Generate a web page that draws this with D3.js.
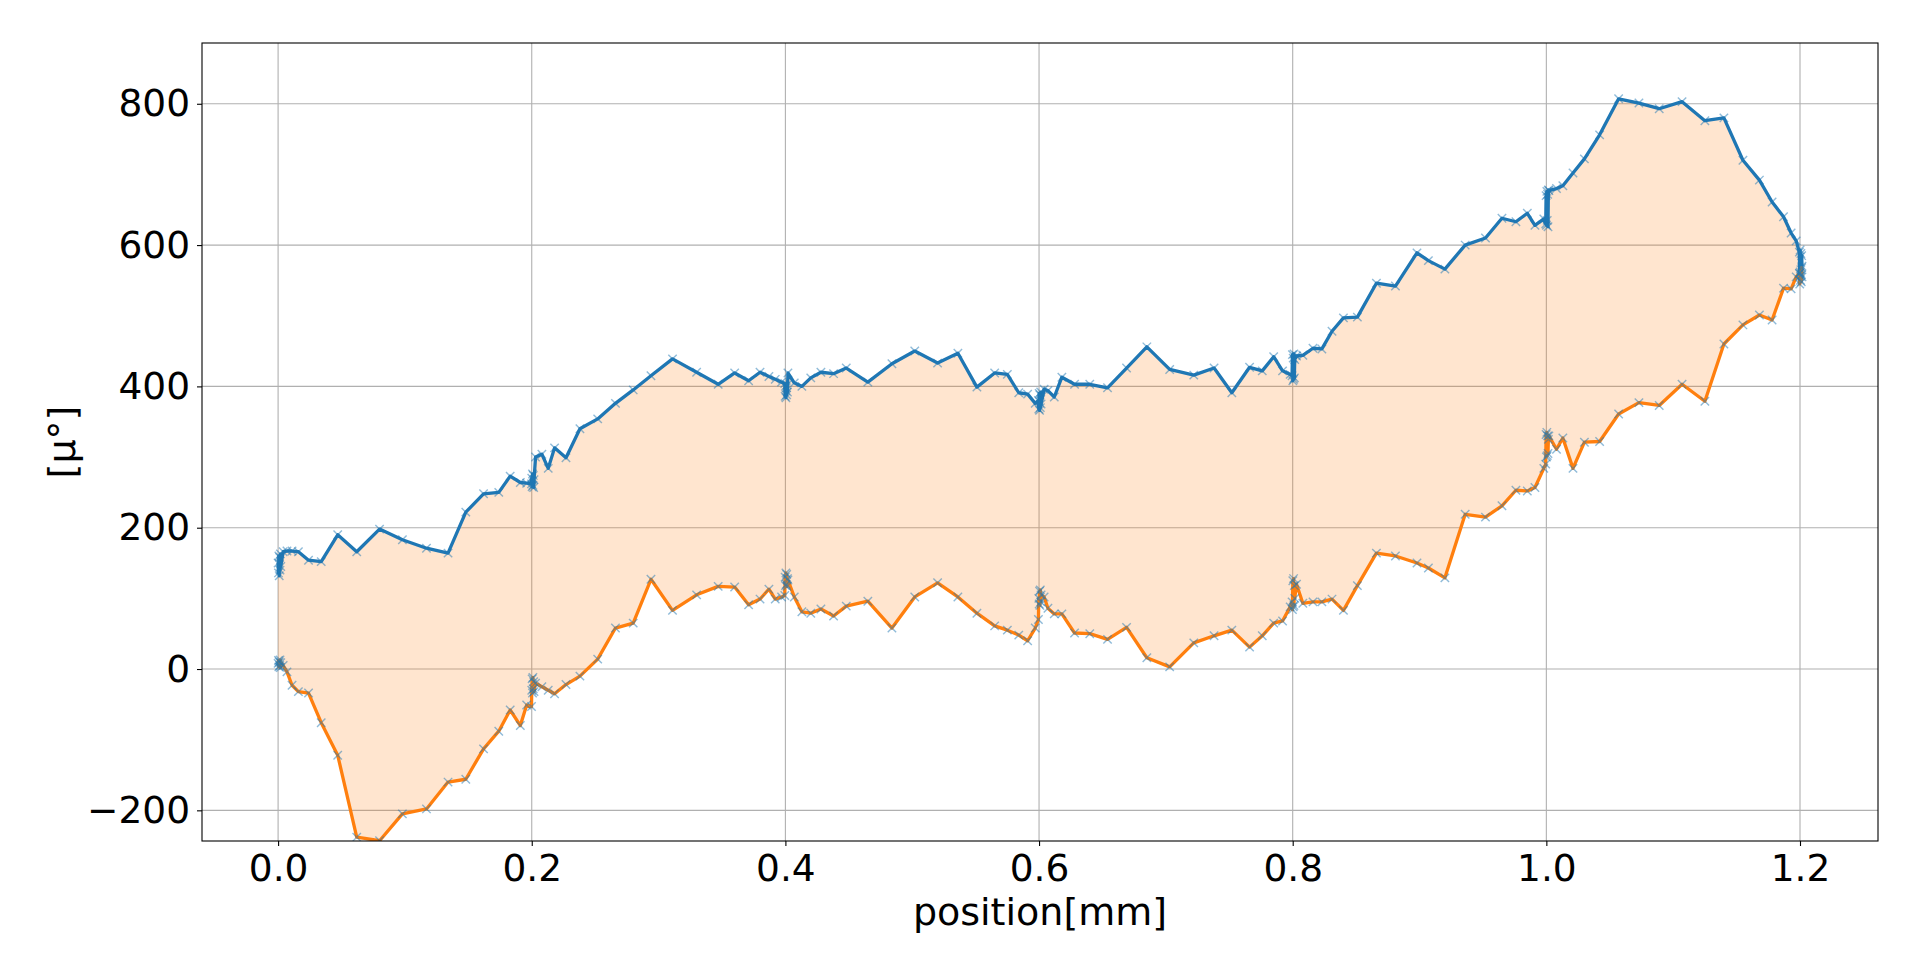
<!DOCTYPE html>
<html>
<head>
<meta charset="utf-8">
<script src="https://cdn.jsdelivr.net/npm/d3@7"></script>
<style>
  body { margin: 0; background: #fff; }
  text { font-family: "DejaVu Sans", sans-serif; fill: #000; }
</style>
</head>
<body>
<div id="svg-container"></div>
<script>
// data: position [mm], upper envelope and lower envelope [µ°]
const positions = [
  0.0000, 0.0003, 0.0006, 0.0009, 0.0012, 0.0015, 0.0018, 0.0021,
  0.004, 0.007, 0.011, 0.016, 0.024, 0.034, 0.047, 0.062, 0.080, 0.098,
  0.117, 0.134, 0.148, 0.162, 0.174, 0.183, 0.191, 0.196,
  0.1998, 0.2000, 0.2003, 0.2006, 0.2009, 0.2012, 0.2015, 0.2018,
  0.203, 0.208, 0.213, 0.218, 0.227, 0.238, 0.252, 0.266, 0.280, 0.294,
  0.311, 0.330, 0.347, 0.360, 0.371, 0.380, 0.387, 0.392, 0.397,
  0.3995, 0.3998, 0.4001, 0.4004, 0.4007, 0.4010, 0.4013, 0.4016,
  0.402, 0.407, 0.413, 0.420, 0.428, 0.438, 0.448, 0.465, 0.484, 0.502,
  0.520, 0.536, 0.551, 0.565, 0.575, 0.584, 0.591, 0.597,
  0.5995, 0.5998, 0.6001, 0.6004, 0.6007, 0.6010, 0.6013, 0.6016,
  0.604, 0.607, 0.612, 0.618, 0.628, 0.640, 0.654, 0.669, 0.685, 0.703,
  0.722, 0.738, 0.752, 0.766, 0.776, 0.785, 0.792, 0.798,
  0.7995, 0.7998, 0.8001, 0.8004, 0.8007, 0.8010, 0.8013, 0.8016,
  0.803, 0.808, 0.816, 0.823, 0.831, 0.840, 0.851, 0.866, 0.881, 0.898,
  0.907, 0.920, 0.936, 0.952, 0.965, 0.976, 0.985, 0.991, 0.998,
  0.9995, 0.9998, 1.0001, 1.0004, 1.0007, 1.0010, 1.0013, 1.0016,
  1.002, 1.008, 1.013, 1.021, 1.030, 1.042, 1.057, 1.073, 1.089, 1.107,
  1.125, 1.140, 1.155, 1.168, 1.178, 1.187, 1.193, 1.197,
  1.1995, 1.1998, 1.2001, 1.2004, 1.2007, 1.2010, 1.2013, 1.2016
];

const upper = [
  150, 136, 160, 132, 158, 140, 163, 145,
  166, 167, 167, 166, 154, 152, 190, 166, 198, 183,
  171, 164, 222, 248, 250, 273, 264, 263,
  262, 270, 258, 276, 260, 274, 257, 268,
  300, 304, 284, 313, 299, 340, 354, 376, 395, 415,
  439, 420, 403, 419, 408, 420, 414, 410, 406,
  404, 386, 400, 384, 398, 388, 402, 392,
  419, 405, 400, 412, 420, 418, 426, 406, 432, 450,
  433, 447, 399, 419, 417, 391, 389, 376,
  380, 368, 390, 366, 388, 370, 392, 375,
  396, 394, 385, 413, 403, 403, 398, 426, 456, 424,
  416, 426, 391, 427, 422, 442, 422, 417,
  415, 445, 408, 440, 410, 446, 412, 438,
  443, 444, 454, 453, 478, 497, 498, 546, 542, 589,
  578, 566, 600, 610, 638, 633, 645, 628, 637,
  630, 670, 628, 676, 635, 672, 626, 678,
  677, 680, 684, 702, 722, 756, 807, 801, 793, 803,
  776, 780, 720, 692, 661, 640, 617, 606,
  590, 560, 593, 556, 588, 558, 585, 570
];

const lower = [
  8, 12, 3, 10, 5, 13, 2, 9,
  5, -4, -23, -32, -34, -76, -122, -238, -243, -205,
  -198, -160, -156, -113, -88, -58, -80, -51,
  -53, -30, -14, -34, -12, -28, -18, -32,
  -20, -25, -30, -35, -22, -10, 14, 58, 65, 127,
  83, 105, 117, 116, 91, 99, 113, 99, 102,
  104, 130, 118, 136, 120, 134, 117, 128,
  126, 102, 81, 79, 85, 75, 89, 96, 58, 102,
  122, 102, 79, 61, 55, 48, 40, 58,
  70, 100, 92, 110, 90, 112, 95, 105,
  102, 86, 78, 78, 51, 50, 42, 59, 16, 3,
  37, 47, 55, 31, 47, 65, 68, 88,
  95, 84, 125, 88, 128, 90, 118, 100,
  120, 93, 95, 95, 99, 83, 118, 164, 160, 150,
  143, 129, 219, 215, 231, 253, 252, 257, 284,
  290, 332, 300, 335, 302, 330, 305, 325,
  330, 311, 327, 284, 321, 322, 361, 377, 373, 403,
  379, 460, 487, 501, 494, 539, 538, 555,
  560, 545, 562, 550, 565, 548, 568, 555
];

const xTicks = [0.0, 0.2, 0.4, 0.6, 0.8, 1.0, 1.2];
const yTicks = [-200, 0, 200, 400, 600, 800];

const rows = positions.map((p, i) => ({ pos: p, hi: upper[i], lo: lower[i] }));

// dimensions
const dim = {
    width: 1920,
    height: 975,
    margin: { top: 43, right: 42, bottom: 134, left: 202 }
}
const innerW = dim.width - dim.margin.left - dim.margin.right;
const innerH = dim.height - dim.margin.top - dim.margin.bottom;

const svg = d3.select('#svg-container')
    .append('svg')
    .attr('width', dim.width)
    .attr('height', dim.height);

const g = svg.append('g')
    .attr('transform', `translate(${dim.margin.left}, ${dim.margin.top})`);

// scales
const xScale = d3.scaleLinear()
    .domain([-0.06, 1.2615])
    .range([0, innerW]);

const yScale = d3.scaleLinear()
    .domain([-243.4, 886])
    .range([innerH, 0]);

g.append('clipPath')
    .attr('id', 'plot-clip')
    .append('rect')
    .attr('width', innerW)
    .attr('height', innerH);

// grid
const grid = g.append('g').attr('stroke', '#b0b0b0').attr('stroke-width', 1.1);
grid.selectAll('.vgrid')
    .data(xTicks)
    .join('line')
    .attr('x1', d => xScale(d)).attr('x2', d => xScale(d))
    .attr('y1', 0).attr('y2', innerH);
grid.selectAll('.hgrid')
    .data(yTicks)
    .join('line')
    .attr('x1', 0).attr('x2', innerW)
    .attr('y1', d => yScale(d)).attr('y2', d => yScale(d));

const plot = g.append('g').attr('clip-path', 'url(#plot-clip)');

// band between the envelopes
const band = d3.area()
    .x(d => xScale(d.pos))
    .y0(d => yScale(d.lo))
    .y1(d => yScale(d.hi));

plot.append('path')
    .datum(rows)
    .attr('d', band)
    .attr('fill', '#ff7f0e')
    .attr('fill-opacity', 0.2);

// envelope lines
const lineHi = d3.line().x(d => xScale(d.pos)).y(d => yScale(d.hi));
const lineLo = d3.line().x(d => xScale(d.pos)).y(d => yScale(d.lo));

plot.append('path')
    .datum(rows)
    .attr('d', lineHi)
    .attr('fill', 'none')
    .attr('stroke', '#1f77b4')
    .attr('stroke-width', 3.3)
    .attr('stroke-linejoin', 'round');

plot.append('path')
    .datum(rows)
    .attr('d', lineLo)
    .attr('fill', 'none')
    .attr('stroke', '#ff7f0e')
    .attr('stroke-width', 3.3)
    .attr('stroke-linejoin', 'round');

// x markers for every sample
const s = 4.2;
const cross = `M${-s},${-s}L${s},${s}M${-s},${s}L${s},${-s}`;
const samples = rows.flatMap(d => [{ pos: d.pos, v: d.hi }, { pos: d.pos, v: d.lo }]);

plot.append('g')
    .selectAll('path')
    .data(samples)
    .join('path')
    .attr('d', cross)
    .attr('transform', d => `translate(${xScale(d.pos)}, ${yScale(d.v)})`)
    .attr('fill', 'none')
    .attr('stroke', '#1f77b4')
    .attr('stroke-opacity', 0.5)
    .attr('stroke-width', 1.4);

// axes
const xAxis = g.append('g')
    .attr('transform', `translate(0, ${innerH})`)
    .call(d3.axisBottom(xScale).tickValues(xTicks).tickFormat(d3.format('.1f'))
        .tickSize(5).tickPadding(8));

const yAxis = g.append('g')
    .call(d3.axisLeft(yScale).tickValues(yTicks).tickFormat(d3.format('d'))
        .tickSize(5).tickPadding(7));

[xAxis, yAxis].forEach(a => {
    a.select('.domain').remove();
    a.selectAll('.tick line').attr('stroke', '#000').attr('stroke-width', 1.1);
    a.selectAll('.tick text')
        .attr('fill', '#000')
        .style('font-family', '"DejaVu Sans", sans-serif')
        .style('font-size', '37.5px');
});

// frame
g.append('rect')
    .attr('width', innerW)
    .attr('height', innerH)
    .attr('fill', 'none')
    .attr('stroke', '#000')
    .attr('stroke-width', 1.1);

// axis labels
svg.append('text')
    .attr('x', dim.margin.left + innerW / 2)
    .attr('y', 925)
    .attr('text-anchor', 'middle')
    .style('font-size', '38px')
    .text('position[mm]');

svg.append('text')
    .attr('transform', `translate(75, ${dim.margin.top + innerH / 2}) rotate(-90)`)
    .attr('text-anchor', 'middle')
    .style('font-size', '38px')
    .text('[µ°]');
</script>
</body>
</html>
